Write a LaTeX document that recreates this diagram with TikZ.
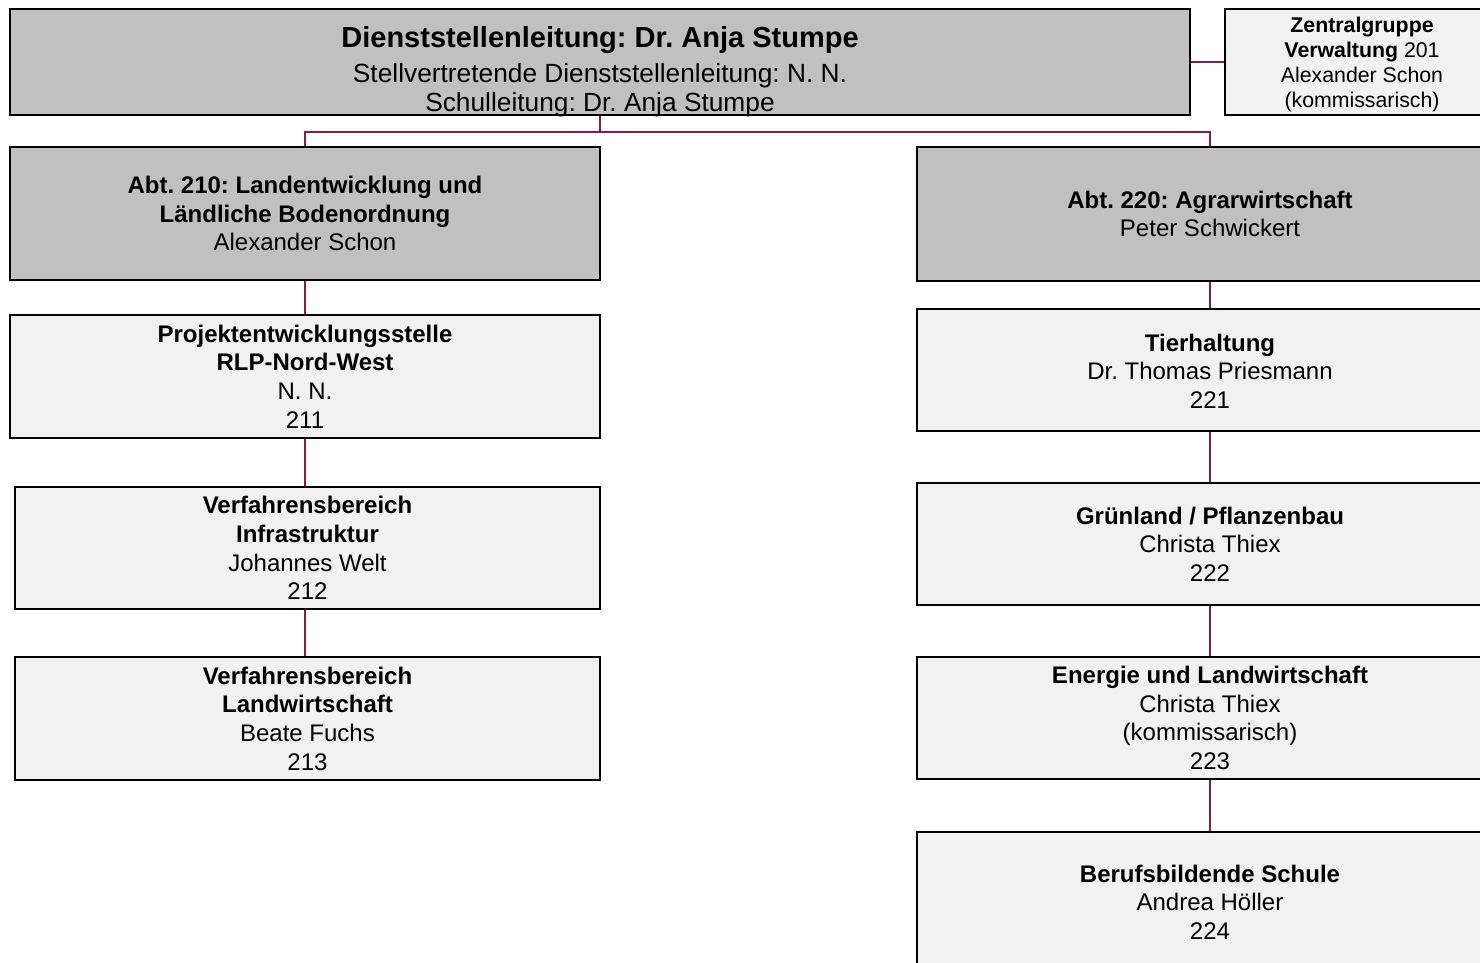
\documentclass[tikz,border=0pt]{standalone}
\usepackage{fontspec}
\setmainfont{Liberation Sans}
\frenchspacing
\definecolor{conn}{RGB}{140,28,62}
\definecolor{darkbox}{RGB}{192,192,192}
\definecolor{lightbox}{RGB}{241,241,241}
\tikzset{
  boxbase/.style={draw=black, line width=1.6pt, rectangle, inner sep=0pt, align=center,
    font=\fontsize{24}{28.7}\selectfont},
  graybox/.style={boxbase, fill=darkbox},
  lightb/.style={boxbase, fill=lightbox},
  link/.style={draw=conn, line width=1.8pt},
  toptxt/.style={anchor=base, inner sep=0pt}
}
\begin{document}
\frenchspacing
\begin{tikzpicture}[x=1pt,y=-1pt]
\useasboundingbox (0,0) rectangle (1480,963);
\clip (0,0) rectangle (1480,963);
% top
\node[graybox, minimum width=1180pt, minimum height=106pt] (top) at (600,62) {};
\node[toptxt, font=\fontsize{29}{34}\selectfont\bfseries] (t1) at (600,47.5) {Dienststellenleitung: Dr. Anja Stumpe};
\node[toptxt, font=\fontsize{26.3}{31}\selectfont] (t2) at (600,82.4) {Stellvertretende Dienststellenleitung: N. N.};
\node[toptxt, font=\fontsize{26.3}{31}\selectfont] (t3) at (600,111.4) {Schulleitung: Dr. Anja Stumpe};
\node[lightb, minimum width=274pt, minimum height=106pt, font=\fontsize{21.3}{25}\selectfont] (zg) at (1362,62)
  {\rule{0pt}{19.5pt}\textbf{Zentralgruppe}\\\textbf{Verwaltung} 201\\Alexander Schon\\(kommissarisch)};
% departments
\node[graybox, minimum width=590pt, minimum height=133pt] (a210) at (305,213.5)
  {\textbf{Abt. 210: Landentwicklung und}\\\textbf{Ländliche Bodenordnung}\\Alexander Schon};
\node[graybox, minimum width=586pt, minimum height=134pt] (a220) at (1210,214)
  {\textbf{Abt. 220: Agrarwirtschaft}\\Peter Schwickert};
% left column
\node[lightb, minimum width=590pt, minimum height=123pt] (p211) at (305,376.5)
  {\textbf{Projektentwicklungsstelle}\\\textbf{RLP-Nord-West}\\N. N.\\211};
\node[lightb, minimum width=585pt, minimum height=122pt] (v212) at (307.5,548)
  {\textbf{Verfahrensbereich}\\\textbf{Infrastruktur}\\Johannes Welt\\212};
\node[lightb, minimum width=585pt, minimum height=123pt] (v213) at (307.5,718.5)
  {\textbf{Verfahrensbereich}\\\textbf{Landwirtschaft}\\Beate Fuchs\\213};
% right column
\node[lightb, minimum width=586pt, minimum height=122pt] (t221) at (1210,370)
  {\rule{0pt}{19.5pt}\textbf{Tierhaltung}\\Dr. Thomas Priesmann\\221};
\node[lightb, minimum width=586pt, minimum height=122pt] (g222) at (1210,544)
  {\textbf{Grünland / Pflanzenbau}\\Christa Thiex\\222};
\node[lightb, minimum width=586pt, minimum height=122pt] (e223) at (1210,718)
  {\textbf{Energie und Landwirtschaft}\\Christa Thiex\\(kommissarisch)\\223};
\node[lightb, minimum width=586pt, minimum height=140pt] (b224) at (1210,902)
  {\textbf{Berufsbildende Schule}\\Andrea Höller\\224};
% connectors
\draw[link] (top.east) -- (zg.west);
\draw[link] (top.south) -- ++(0,16) coordinate (jn) -| (a210.north);
\draw[link] (jn) -| (a220.north);
\draw[link] (a210.south) -- (p211.north);
\draw[link] (p211.south) -- (p211.south |- v212.north);
\draw[link] (p211.south |- v212.south) -- (p211.south |- v213.north);
\draw[link] (a220.south) -- (t221.north);
\draw[link] (t221.south) -- (g222.north);
\draw[link] (g222.south) -- (e223.north);
\draw[link] (e223.south) -- (b224.north);
\end{tikzpicture}
\end{document}
